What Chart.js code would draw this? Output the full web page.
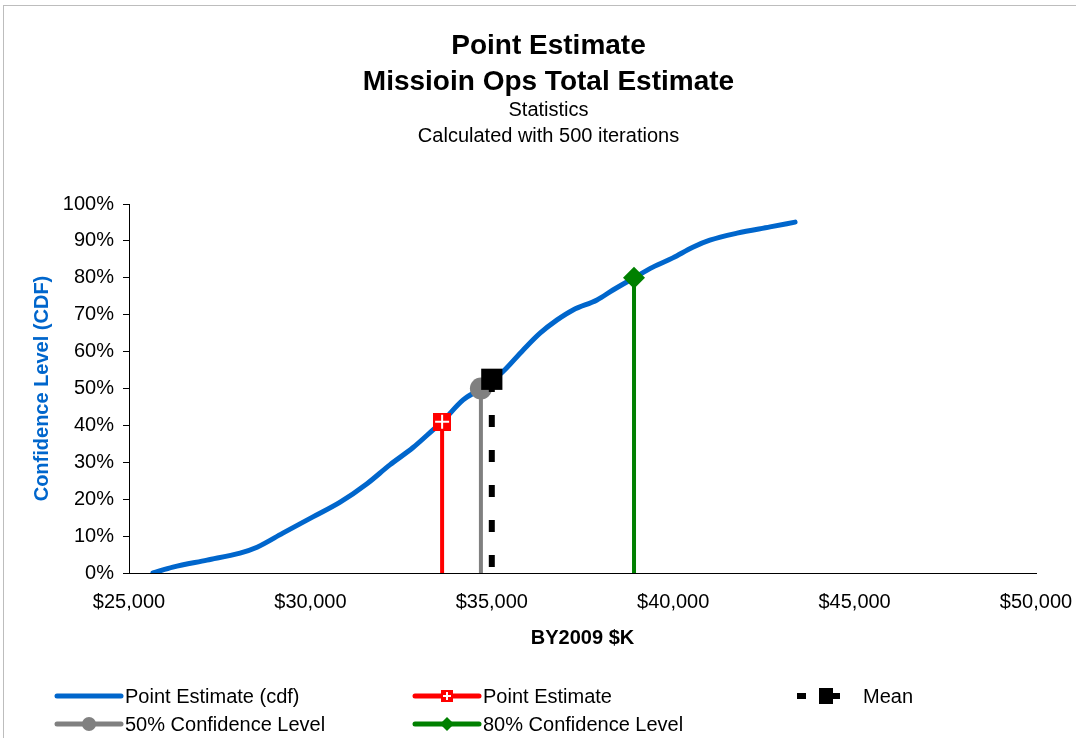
<!DOCTYPE html>
<html>
<head>
<meta charset="utf-8">
<script src="https://cdn.jsdelivr.net/npm/chart.js@4"></script>
<style>
    html, body { margin: 0; padding: 0; background: #fff; overflow: hidden; }
    #frame { position: absolute; left: 3px; top: 5px; width: 1200px; height: 900px;
             border-left: 1px solid #bdbdbd; border-top: 1px solid #bdbdbd; }
    #wrap { position: absolute; left: 0; top: 0; width: 1076px; height: 738px; }
</style>
</head>
<body>
<div id="frame"></div>
<div id="wrap"><canvas id="chart" width="1076" height="738"></canvas></div>
<script>
// ---- data ----
const cdfCost  = [25660, 26210, 27150, 28060, 28530, 29240, 30070, 30820, 31560, 32190, 32830, 33380,
                  33630, 34210, 34700, 35000, 35230, 35860, 36330, 36800, 37240, 37900, 38340, 38920,
                  39440, 39990, 40540, 41010, 41760, 42670, 43360];
const cdfLevel = [0, 1.6, 3.5, 5.4, 7.0, 10.8, 15.2, 19.2, 24.2, 29.3, 34.0, 38.8,
                  41, 46.9, 50, 52.5, 53.9, 60.4, 65.0, 68.6, 71.3, 74.0, 76.7, 80,
                  82.9, 85.4, 88.3, 90.2, 92.1, 93.8, 95.1];

const markerLabels = ['Point Estimate', '50% Confidence Level', 'Mean', '80% Confidence Level'];
const markerCost   = [33630, 34700, 35000, 38920];
const markerLevel  = [41, 50, 52.5, 80];

const xTickMin = 25000, xTickMax = 50000, xTickStep = 5000;
const yTickMin = 0, yTickMax = 100, yTickStep = 10;

const FONT = "'Liberation Sans', Arial, sans-serif";
const BLUE = '#0066CC', RED = '#FF0000', GRAY = '#808080', GREEN = '#008000';

// red square with a white cross (Excel style marker)
function crossSquare(size) {
    const c = document.createElement('canvas');
    c.width = size; c.height = size;
    const g = c.getContext('2d');
    g.fillStyle = RED;
    g.fillRect(0, 0, size, size);
    g.fillStyle = '#fff';
    const m = Math.floor(size / 2);
    g.fillRect(m - 1, 2, 2, size - 4);
    g.fillRect(2, m - 1, size - 4, 2);
    return c;
}
const redMark = crossSquare(18);
const redMarkSmall = crossSquare(12);

function stem(i) {
    return [{ x: markerCost[i], y: 0 }, { x: markerCost[i], y: markerLevel[i] }];
}

const datasets = [
    {
        label: 'Point Estimate (cdf)',
        data: cdfCost.map((c, i) => ({ x: c, y: cdfLevel[i] })),
        borderColor: BLUE, borderWidth: 5, pointRadius: 0,
        cubicInterpolationMode: 'monotone', borderCapStyle: 'round', order: 10
    },
    {
        label: markerLabels[0], data: stem(0),
        borderColor: RED, borderWidth: 4, pointRadius: [0, 9],
        pointStyle: redMark, order: 1
    },
    {
        label: markerLabels[1], data: stem(1),
        borderColor: GRAY, borderWidth: 4, pointRadius: [0, 11],
        pointStyle: 'circle', pointBackgroundColor: GRAY, pointBorderWidth: 0, order: 2
    },
    {
        label: markerLabels[2], data: stem(2),
        borderColor: '#000', borderWidth: 6, borderDash: [12, 23], borderDashOffset: 29,
        borderCapStyle: 'butt', pointRadius: [0, 15],
        pointStyle: 'rect', pointBackgroundColor: '#000', pointBorderWidth: 0, order: 0
    },
    {
        label: markerLabels[3], data: stem(3),
        borderColor: GREEN, borderWidth: 4, pointRadius: [0, 11],
        pointStyle: 'rectRot', pointBackgroundColor: GREEN, pointBorderWidth: 0, order: 3
    }
];

/* -------------------- legend drawn in two fixed rows -------------------- */
const legendItems = [
    { label: 'Point Estimate (cdf)', x: 55,  y: 696, color: BLUE },
    { label: 'Point Estimate',       x: 413, y: 696, color: RED, marker: redMarkSmall, r: 6 },
    { label: 'Mean',                 x: 797, y: 696, color: '#000', mean: true },
    { label: '50% Confidence Level', x: 55,  y: 724, color: GRAY, marker: 'circle', r: 7 },
    { label: '80% Confidence Level', x: 413, y: 724, color: GREEN, marker: 'rectRot', r: 7 }
];

const sheetLegend = {
    id: 'sheetLegend',
    afterDraw(chart) {
        const ctx = chart.ctx;
        ctx.save();
        ctx.font = '20px ' + FONT;
        ctx.textBaseline = 'middle';
        ctx.fillStyle = '#000';
        legendItems.forEach(it => {
            if (it.mean) {
                ctx.fillStyle = '#000';
                ctx.fillRect(it.x, it.y - 3, 9, 6);
                ctx.fillRect(it.x + 22, it.y - 8, 14, 16);
                ctx.fillRect(it.x + 36, it.y - 3, 7, 6);
                ctx.fillText(it.label, it.x + 66, it.y + 1);
                return;
            }
            ctx.strokeStyle = it.color;
            ctx.lineWidth = 5;
            ctx.lineCap = 'round';
            ctx.beginPath();
            ctx.moveTo(it.x + 2, it.y);
            ctx.lineTo(it.x + 66, it.y);
            ctx.stroke();
            if (it.marker) {
                ctx.fillStyle = it.color;
                Chart.helpers.drawPoint(ctx, { pointStyle: it.marker, radius: it.r, rotation: 0, borderWidth: 0 },
                    it.x + 34, it.y);
            }
            ctx.fillStyle = '#000';
            ctx.fillText(it.label, it.x + 70, it.y + 1);
        });
        ctx.restore();
    }
};

new Chart(document.getElementById('chart'), {
    type: 'line',
    data: { datasets },
    plugins: [sheetLegend],
    options: {
        responsive: false,
        animation: false,
        layout: { padding: { left: 21, right: 0, top: 0, bottom: 88 } },
        plugins: {
            legend: { display: false },
            tooltip: { enabled: false },
            title: {
                display: true,
                text: ['Point Estimate', 'Missioin Ops Total Estimate'],
                color: '#000',
                font: { family: FONT, size: 28, weight: 'bold', lineHeight: 1.286 },
                padding: { top: 28, bottom: -3 }
            },
            subtitle: {
                display: true,
                text: ['Statistics', 'Calculated with 500 iterations'],
                color: '#000',
                font: { family: FONT, size: 20, lineHeight: 1.3 },
                padding: { top: 0, bottom: 55 }
            }
        },
        scales: {
            x: {
                type: 'linear',
                min: xTickMin, max: xTickMax,
                ticks: {
                    stepSize: xTickStep, color: '#000', padding: 17,
                    font: { family: FONT, size: 20 },
                    callback: v => '$' + v.toLocaleString('en-US')
                },
                grid: { display: false, drawTicks: false },
                border: { display: true, color: '#000', width: 1 },
                title: {
                    display: true, text: 'BY2009 $K', color: '#000',
                    font: { family: FONT, size: 20, weight: 'bold', lineHeight: 1.2 },
                    padding: { top: 13, bottom: 0 }
                },
                afterFit: s => { s.paddingRight = 40; s.height = 77; }
            },
            y: {
                min: yTickMin, max: yTickMax,
                ticks: {
                    stepSize: yTickStep, color: '#000', padding: 9,
                    font: { family: FONT, size: 20 },
                    callback: v => v + '%'
                },
                grid: { drawOnChartArea: false, color: '#000', tickLength: 6 },
                border: { display: true, color: '#000', width: 1 },
                title: {
                    display: true, text: 'Confidence Level (CDF)', color: BLUE,
                    font: { family: FONT, size: 20, weight: 'bold', lineHeight: 1.2 },
                    padding: { top: 9, bottom: 0 }
                },
                afterFit: s => { s.width = 108; }
            }
        }
    }
});
</script>
</body>
</html>
